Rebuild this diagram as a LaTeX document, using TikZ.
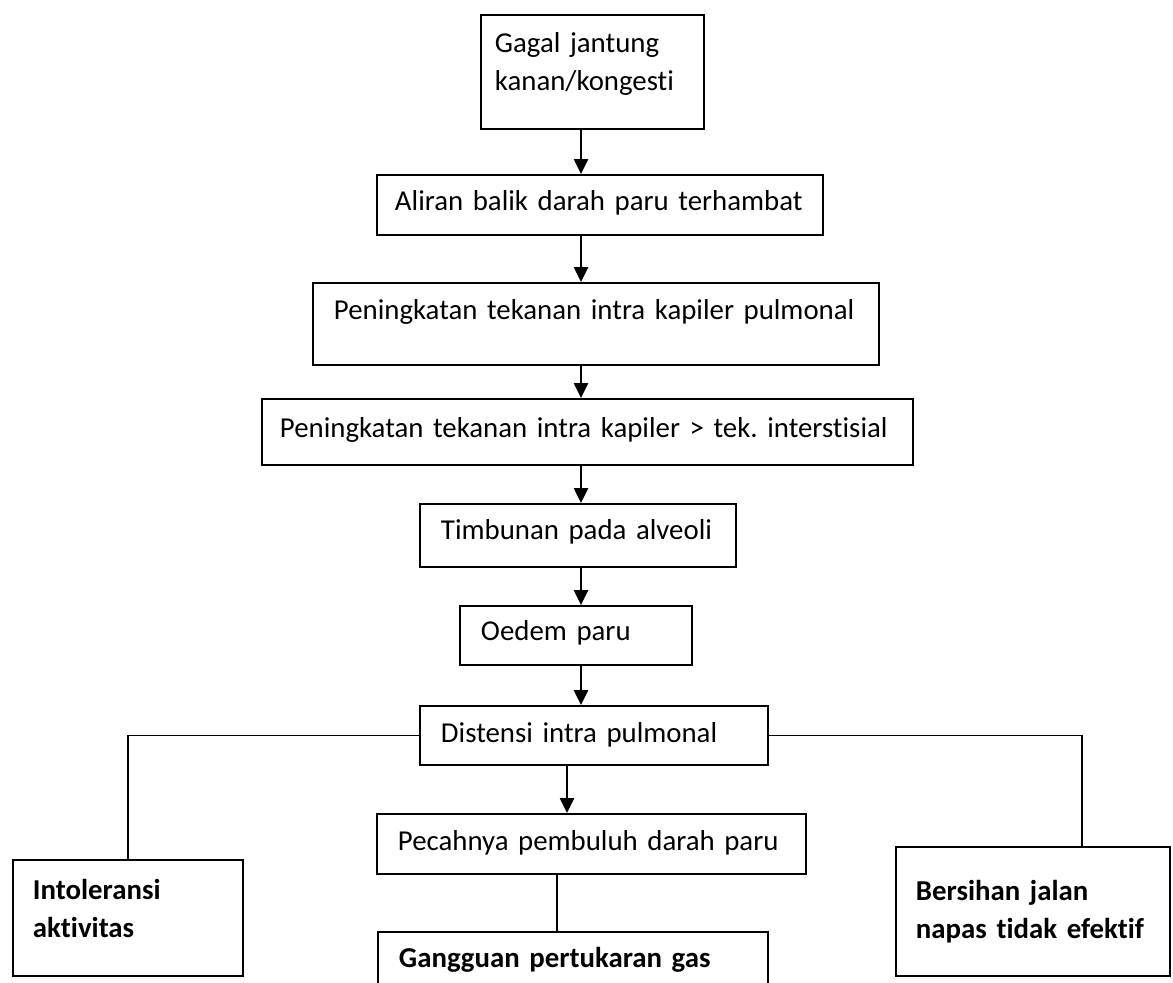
\documentclass[tikz,border=0pt]{standalone}
\usepackage{fontspec}
\setmainfont{Carlito}[Ligatures={TeX,NoCommon}]
\usepackage{tikz}
\usetikzlibrary{arrows.meta}
\frenchspacing

\begin{document}
\begin{tikzpicture}[line width=1.4pt, >={Triangle[width=0.35cm,length=0.37cm]},
    kotak/.style={draw, anchor=north west, inner xsep=0.525cm, inner ysep=0pt, align=left,
        font=\fontsize{20.5}{27}\selectfont},
    tebal/.style={kotak, inner xsep=0.5cm, font=\fontsize{20.5}{27}\selectfont\bfseries}]

                \clip (0,0) rectangle (29.325,-24.575);

                % Nodes
                \node at (12.0,-0.35) (gagal) [kotak, inner xsep=0.35cm, text width=4.875cm, text height=0.95cm, text depth=1.9cm] {Gagal jantung\\kanan/kongesti};
                \node at (9.4,-4.35) (aliran) [kotak, inner xsep=0.45cm, text width=10.25cm, text height=0.9cm, text depth=0.6cm] {Aliran balik darah paru terhambat};
                \node at (7.8,-7.05) (kapiler) [kotak, text width=13.1cm, text height=0.925cm, text depth=1.125cm] {Peningkatan tekanan intra kapiler pulmonal};
                \node at (6.525,-9.95) (interstisial) [kotak, inner xsep=0.45cm, text width=15.375cm, text height=0.975cm, text depth=0.675cm] {Peningkatan tekanan intra kapiler > tek. interstisial};
                \node at (10.475,-12.575) (timbunan) [kotak, text width=6.85cm, text height=0.9cm, text depth=0.675cm] {Timbunan pada alveoli};
                \node at (11.475,-15.125) (oedem) [kotak, text width=4.75cm, text height=0.875cm, text depth=0.6cm] {Oedem paru};
                \node at (10.475,-17.625) (distensi) [kotak, text width=7.65cm, text height=0.925cm, text depth=0.55cm] {Distensi intra pulmonal};
                \node at (9.4,-20.325) (pecah) [kotak, text width=9.675cm, text height=0.925cm, text depth=0.575cm] {Pecahnya pembuluh darah paru};
                \node at (9.425,-23.275) (gangguan) [tebal, inner xsep=0.525cm, text width=8.7cm, text height=0.9cm, text depth=2cm] {Gangguan pertukaran gas};
                \node at (0.3,-21.475) (intoleransi) [tebal, text width=4.75cm, text height=1.0cm, text depth=1.9cm] {Intoleransi\\aktivitas};
                \node at (22.375,-21.15) (bersihan) [tebal, text width=5.85cm, text height=1.35cm, text depth=1.875cm] {Bersihan jalan\\napas tidak efektif};

                % Axes of the connectors
                \coordinate (poros) at (14.525,0);
                \coordinate (poros2) at (14.175,0);
                \coordinate (poros3) at (13.925,0);
                \coordinate (belok) at (27.05,0);

                % Arrows
                \draw[->] (gagal.south -| poros) -- (aliran.north -| poros);
                \draw[->] (aliran.south -| poros) -- (kapiler.north -| poros);
                \draw[->] (kapiler.south -| poros) -- (interstisial.north -| poros);
                \draw[->] (interstisial.south -| poros) -- (timbunan.north -| poros);
                \draw[->] (timbunan.south -| poros) -- (oedem.north -| poros);
                \draw[->] (oedem.south -| poros) -- (distensi.north -| poros);
                \draw[->] (distensi.south -| poros2) -- (pecah.north -| poros2);

                % Branches
                \draw (distensi.west) -| (intoleransi.north);
                \draw (distensi.east) -| (bersihan.north -| belok);
                \draw (pecah.south -| poros3) -- (gangguan.north -| poros3);

            \end{tikzpicture}
\end{document}
